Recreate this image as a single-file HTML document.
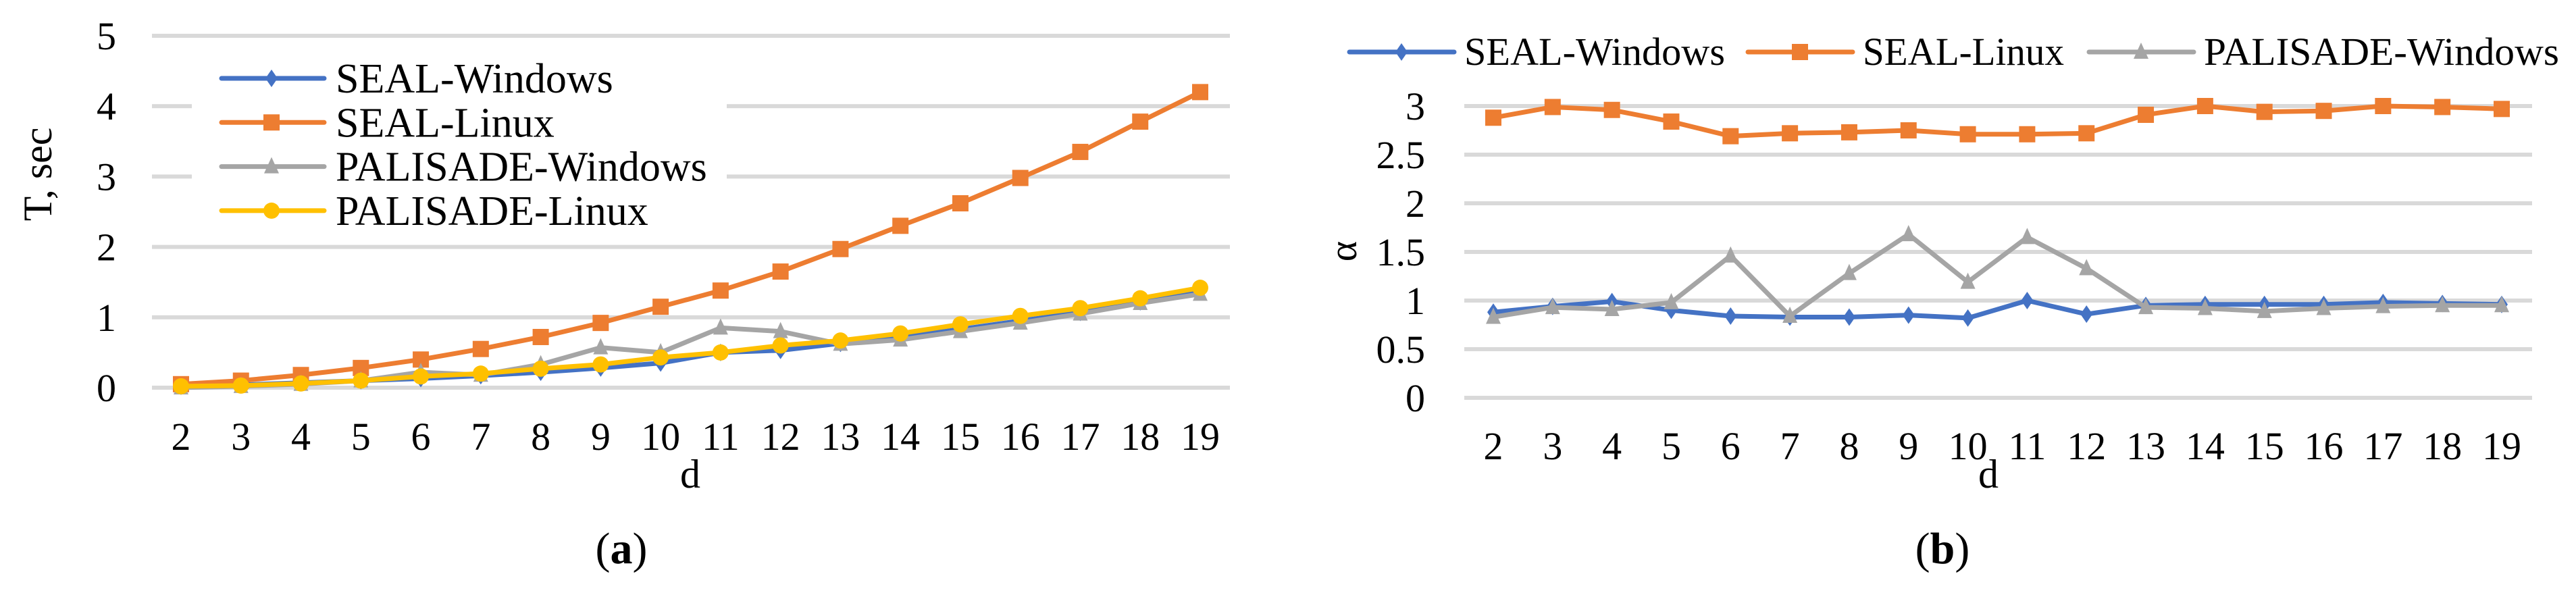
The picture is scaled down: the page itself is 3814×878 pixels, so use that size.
<!DOCTYPE html>
<html><head><meta charset="utf-8"><style>
html,body{margin:0;padding:0;background:#fff;}
svg{display:block;}
text{font-family:"Liberation Serif",serif;fill:#000;}
</style></head><body>
<svg id="fig" width="3814" height="878" viewBox="0 0 3814 878" xmlns="http://www.w3.org/2000/svg">
<g id="ca"></g>
<g id="cb"></g>
</svg>
<script>
const categories = [2,3,4,5,6,7,8,9,10,11,12,13,14,15,16,17,18,19];
const aTicks = [0,1,2,3,4,5];
const aSealWin = [0.02,0.04,0.07,0.1,0.13,0.17,0.22,0.28,0.35,0.5,0.53,0.63,0.72,0.83,0.95,1.07,1.22,1.38];
const aSealLin = [0.05,0.1,0.18,0.28,0.4,0.55,0.72,0.92,1.15,1.38,1.65,1.97,2.3,2.62,2.98,3.35,3.78,4.2];
const aPalWin = [0.0,0.02,0.05,0.1,0.22,0.18,0.33,0.57,0.5,0.85,0.8,0.62,0.68,0.8,0.92,1.05,1.2,1.33];
const aPalLin = [0.02,0.03,0.06,0.1,0.16,0.2,0.27,0.33,0.43,0.5,0.6,0.67,0.77,0.9,1.02,1.13,1.27,1.42];
const bTicks = [0,0.5,1,1.5,2,2.5,3];
const bSealWin = [0.88,0.94,0.99,0.9,0.84,0.83,0.83,0.85,0.82,1.0,0.86,0.95,0.96,0.96,0.96,0.98,0.97,0.96];
const bSealLin = [2.88,2.99,2.96,2.84,2.69,2.72,2.73,2.75,2.71,2.71,2.72,2.91,3.0,2.94,2.95,3.0,2.99,2.97];
const bPalWin = [0.83,0.93,0.91,0.98,1.46,0.84,1.28,1.68,1.19,1.65,1.33,0.93,0.92,0.89,0.92,0.94,0.95,0.95];

const NS="http://www.w3.org/2000/svg";
function mk(parent,tag,attrs,txt){const e=document.createElementNS(NS,tag);for(const k in attrs)e.setAttribute(k,attrs[k]);if(txt!==undefined)e.textContent=txt;parent.appendChild(e);return e;}
const COL={blue:"#4472c4",orange:"#ed7d31",gray:"#a5a5a5",yellow:"#ffc000"};

function marker(g,type,x,y,c){
  let e;
  if(type==="diamond") e=mk(g,"polygon",{points:`${x},${y-13} ${x+9},${y} ${x},${y+13} ${x-9},${y}`,fill:c});
  else if(type==="square") e=mk(g,"rect",{x:x-12,y:y-12,width:24,height:24,fill:c});
  else if(type==="triangle") e=mk(g,"polygon",{points:`${x},${y-14} ${x+11},${y+10} ${x-11},${y+10}`,fill:c});
  else e=mk(g,"ellipse",{cx:x,cy:y,rx:12,ry:12,fill:c});
  
  
}

function drawChart(g,cfg){
  const xs=i=>cfg.x0+(cfg.x1-cfg.x0)*i/(categories.length-1);
  const ys=v=>cfg.yZero-(v/cfg.yMax)*(cfg.yZero-cfg.yTop);
  cfg.ticks.forEach(t=>{
    const gl=mk(g,"rect",{x:cfg.gx0,y:ys(t)-3,width:cfg.gx1-cfg.gx0,height:6,fill:"#d9d9d9"});
    
    
    const tl=mk(g,"text",{x:cfg.tickX,y:ys(t)+20,"font-size":58,"text-anchor":"end"},String(t));
    
    
  });
  categories.forEach((c,i)=>{
    const tl=mk(g,"text",{x:xs(i),y:cfg.xLabY,"font-size":58,"text-anchor":"middle"},String(c));
    
    
  });
  cfg.series.forEach(s=>{
    const sg=mk(g,"g",{});
    
    
    const pts=s.data.map((v,i)=>xs(i)+","+ys(v)).join(" ");
    const pl=mk(sg,"polyline",{points:pts,fill:"none",stroke:s.c,"stroke-width":7,"stroke-linejoin":"round","stroke-linecap":"round"});
    
    
    s.data.forEach((v,i)=>marker(sg,s.m,xs(i),ys(v),s.c));
  });
}

const ca=document.getElementById("ca"), cb=document.getElementById("cb");
drawChart(ca,{x0:268,x1:1777,gx0:225,gx1:1821,yZero:574,yTop:53,yMax:5,ticks:aTicks,tickX:172,xLabY:666,
  series:[{key:"seal-windows",data:aSealWin,c:COL.blue,m:"diamond"},{key:"seal-linux",data:aSealLin,c:COL.orange,m:"square"},
  {key:"palisade-windows",data:aPalWin,c:COL.gray,m:"triangle"},{key:"palisade-linux",data:aPalLin,c:COL.yellow,m:"circle"}]});
const legA=mk(ca,"g",{});


mk(legA,"rect",{x:284,y:85,width:792,height:255,fill:"#fff"});
[["SEAL-Windows",COL.blue,"diamond"],["SEAL-Linux",COL.orange,"square"],["PALISADE-Windows",COL.gray,"triangle"],["PALISADE-Linux",COL.yellow,"circle"]].forEach((L,i)=>{
  const y=116+i*65.3;
  const ent=mk(legA,"g",{});
  
  
  mk(ent,"line",{x1:328,y1:y,x2:480,y2:y,stroke:L[1],"stroke-width":7,"stroke-linecap":"round"});
  marker(ent,L[2],402,y,L[1]);
  mk(ent,"text",{x:497,y:y+21,"font-size":62},L[0]);
});
const ta=mk(ca,"text",{x:0,y:0,"font-size":60,"text-anchor":"middle",transform:"translate(76,258) rotate(-90)"},"T, sec");


const da=mk(ca,"text",{x:1022,y:722,"font-size":60,"text-anchor":"middle"},"d");


const capA=mk(ca,"text",{x:920,y:834,"font-size":66,"text-anchor":"middle"});


capA.innerHTML='(<tspan font-weight="bold">a</tspan>)';

drawChart(cb,{x0:2211,x1:3704,gx0:2168,gx1:3749,yZero:589,yTop:157,yMax:3,ticks:bTicks,tickX:2110,xLabY:680,
  series:[{key:"seal-windows",data:bSealWin,c:COL.blue,m:"diamond"},{key:"seal-linux",data:bSealLin,c:COL.orange,m:"square"},
  {key:"palisade-windows",data:bPalWin,c:COL.gray,m:"triangle"}]});
const legB=mk(cb,"g",{});


[["SEAL-Windows",COL.blue,"diamond",1998,386],["SEAL-Linux",COL.orange,"square",2588,298],["PALISADE-Windows",COL.gray,"triangle",3093,526]].forEach(L=>{
  const y=77, x=L[3];
  const ent=mk(legB,"g",{});
  
  
  mk(ent,"line",{x1:x,y1:y,x2:x+155,y2:y,stroke:L[1],"stroke-width":7,"stroke-linecap":"round"});
  marker(ent,L[2],x+77,y,L[1]);
  mk(ent,"text",{x:x+170,y:y+19,"font-size":58,textLength:L[4],lengthAdjust:"spacingAndGlyphs"},L[0]);
});
const tb=mk(cb,"text",{x:0,y:0,"font-size":58,"text-anchor":"middle",transform:"translate(2008,372) rotate(-90)"},"α");


const db=mk(cb,"text",{x:2944,y:722,"font-size":60,"text-anchor":"middle"},"d");


const capB=mk(cb,"text",{x:2876,y:834,"font-size":66,"text-anchor":"middle"});


capB.innerHTML='(<tspan font-weight="bold">b</tspan>)';
</script>
</body></html>
